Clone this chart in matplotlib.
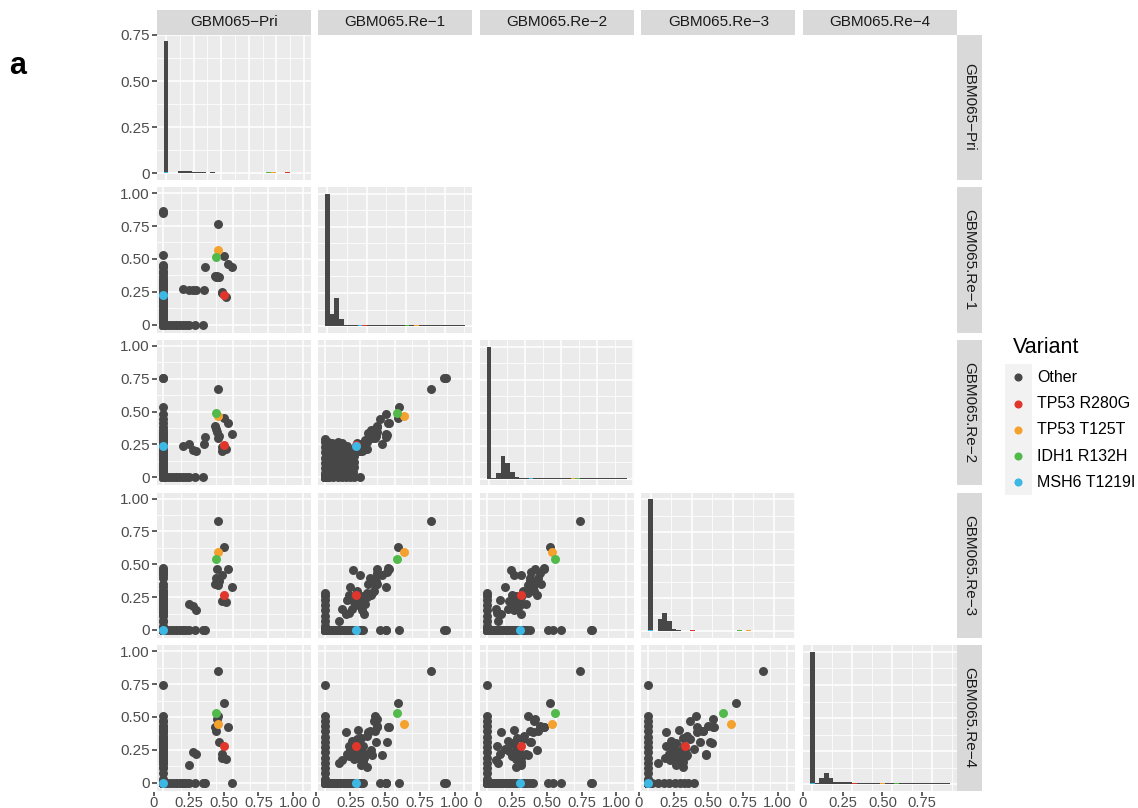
import numpy as np
import matplotlib
matplotlib.use("Agg")
import matplotlib.pyplot as plt
from matplotlib.ticker import FuncFormatter, MultipleLocator

plt.rcParams['font.family'] = ['Liberation Sans', 'DejaVu Sans']

# ---------------------------------------------------------------- data
samples = ["GBM065\u2212Pri", "GBM065.Re\u22121", "GBM065.Re\u22122",
           "GBM065.Re\u22123", "GBM065.Re\u22124"]

variant_names = ["Other", "TP53 R280G", "TP53 T125T", "IDH1 R132H", "MSH6 T1219I"]
variant_colors = ["#474747", "#E0362C", "#F4A12E", "#52BA4A", "#3DB7E4"]

# VAF of the highlighted variants: Pri, Re-1, Re-2, Re-3, Re-4
tp53_r280g = [0.437, 0.225, 0.244, 0.267, 0.278]
tp53_t125t = [0.390, 0.565, 0.467, 0.594, 0.445]
idh1_r132h = [0.375, 0.517, 0.490, 0.540, 0.528]
msh6_t1219i = [0.000, 0.223, 0.240, 0.000, 0.000]

# other mutations present in the primary tumour (Pri, Re-1 .. Re-4)
truncal = [
    (0.395, 0.764, 0.670, 0.826, 0.850),
    (0.437, 0.524, 0.455, 0.631, 0.603),
    (0.465, 0.460, 0.410, 0.467, 0.427),
    (0.490, 0.440, 0.330, 0.330, 0.000),
    (0.420, 0.250, 0.200, 0.415, 0.220),
    (0.420, 0.240, 0.230, 0.220, 0.190),
    (0.450, 0.210, 0.214, 0.210, 0.180),
    (0.400, 0.365, 0.315, 0.370, 0.306),
    (0.370, 0.370, 0.390, 0.348, 0.427),
    (0.380, 0.360, 0.370, 0.396, 0.394),
    (0.395, 0.360, 0.300, 0.340, 0.508),
    (0.384, 0.372, 0.346, 0.467, 0.483),
    (0.300, 0.440, 0.310, 0.000, 0.000),
    (0.290, 0.260, 0.257, 0.000, 0.000),
    (0.140, 0.270, 0.240, 0.000, 0.000),
    (0.180, 0.260, 0.250, 0.200, 0.134),
    (0.215, 0.260, 0.210, 0.180, 0.234),
    (0.235, 0.265, 0.200, 0.150, 0.217),
]

# absent in Pri, shared by the recurrences (Re-1, Re-2, Re-3, Re-4)
recurrence_shared = [
    (0.452, 0.410, 0.472, 0.427),
    (0.370, 0.382, 0.430, 0.432),
    (0.310, 0.334, 0.348, 0.382),
    (0.350, 0.340, 0.298, 0.467),
    (0.320, 0.315, 0.396, 0.394),
    (0.444, 0.320, 0.443, 0.306),
    (0.408, 0.250, 0.415, 0.210),
    (0.300, 0.214, 0.250, 0.120),
    (0.240, 0.200, 0.220, 0.400),
    (0.260, 0.220, 0.250, 0.340),
    (0.300, 0.270, 0.280, 0.355),
    (0.150, 0.100, 0.124, 0.382),
    (0.170, 0.075, 0.130, 0.280),
    (0.336, 0.300, 0.280, 0.210),
    (0.276, 0.250, 0.250, 0.154),
    (0.200, 0.178, 0.460, 0.300),
    (0.180, 0.130, 0.330, 0.260),
    (0.160, 0.094, 0.230, 0.220),
    (0.120, 0.070, 0.158, 0.170),
    (0.100, 0.082, 0.070, 0.150),
    (0.280, 0.250, 0.120, 0.190),
    (0.330, 0.359, 0.267, 0.250),
    (0.220, 0.200, 0.200, 0.300),
    (0.250, 0.230, 0.180, 0.260),
    (0.210, 0.160, 0.220, 0.240),
    (0.190, 0.150, 0.160, 0.320),
    (0.270, 0.210, 0.260, 0.280),
    (0.230, 0.260, 0.300, 0.330),
    (0.290, 0.280, 0.200, 0.220),
    (0.170, 0.180, 0.270, 0.200),
]

# found only in Re-1 and Re-2 (Re-1, Re-2)
re1_re2_only = [
    (0.02, 0.03), (0.02, 0.07), (0.02, 0.11), (0.02, 0.15), (0.02, 0.19), (0.02, 0.23), (0.02, 0.27),
    (0.05, 0.02), (0.05, 0.06), (0.05, 0.10), (0.05, 0.14), (0.05, 0.18), (0.05, 0.22), (0.05, 0.26),
    (0.08, 0.04), (0.08, 0.08), (0.08, 0.12), (0.08, 0.16), (0.08, 0.20), (0.08, 0.24), (0.09, 0.27),
    (0.11, 0.02), (0.11, 0.06), (0.11, 0.10), (0.11, 0.14), (0.11, 0.18), (0.12, 0.22), (0.12, 0.26),
    (0.14, 0.04), (0.14, 0.08), (0.14, 0.12), (0.15, 0.16), (0.15, 0.20), (0.16, 0.24),
    (0.17, 0.02), (0.17, 0.06), (0.18, 0.10), (0.18, 0.14), (0.19, 0.19),
    (0.20, 0.04), (0.21, 0.08), (0.21, 0.12),
    (0.528, 0.535), (0.440, 0.480), (0.396, 0.442),
    (0.852, 0.753), (0.866, 0.755),
]

# private mutations (VAF in their own sample only)
pri_only = [0.02, 0.04, 0.06, 0.08, 0.10, 0.12, 0.14, 0.16, 0.18, 0.23, 0.285]
re1_only = [0.03, 0.06, 0.09, 0.12, 0.15, 0.18, 0.21, 0.252]
re2_only = [0.03, 0.07, 0.11, 0.15, 0.19, 0.23, 0.27, 0.29]
re3_only = [0.03, 0.07, 0.11, 0.15, 0.19, 0.23, 0.26, 0.285]
re4_only = [0.03, 0.07, 0.11, 0.15, 0.19, 0.23, 0.27, 0.31, 0.35, 0.39,
            0.43, 0.47, 0.51, 0.743]

# histogram bin heights (30 bins per sample); Pri as proportions,
# the recurrences relative to their tallest bin
hist_pri = [0.716, 0.0015, 0.0015, 0.012, 0.012, 0.012, 0.005, 0.005, 0.005, 0.0015,
            0.005, 0.0015, 0.0015, 0.0015, 0.0015, 0.0015, 0.0015, 0.0015, 0.0015, 0.0015,
            0.0015, 0.0015, 0.007, 0.007, 0.0015, 0.0015, 0.007, 0.0015, 0.0015, 0.0015]
hist_re1 = [1.0, 0.089, 0.216, 0.051, 0.006, 0.006, 0.006, 0.006, 0.006, 0.006,
            0.006, 0.006, 0.006, 0.006, 0.006, 0.006, 0.006, 0.006, 0.006, 0.006,
            0.006, 0.006, 0.006, 0.006, 0.006, 0.006, 0.006, 0.006, 0.006, 0.006]
hist_re2 = [1.0, 0.006, 0.045, 0.176, 0.121, 0.055, 0.017, 0.009, 0.009, 0.009,
            0.009, 0.006, 0.006, 0.006, 0.006, 0.006, 0.006, 0.006, 0.006, 0.006,
            0.006, 0.006, 0.006, 0.006, 0.006, 0.006, 0.006, 0.006, 0.006, 0.006]
hist_re3 = [1.0, 0.006, 0.097, 0.137, 0.076, 0.018, 0.009, 0.006, 0.006, 0.006,
            0.006, 0.006, 0.006, 0.006, 0.006, 0.006, 0.006, 0.006, 0.006, 0.006,
            0.006, 0.006, 0.006, 0.006, 0.006, 0.006, 0.006, 0.006, 0.006, 0.006]
hist_re4 = [1.0, 0.006, 0.050, 0.083, 0.050, 0.017, 0.017, 0.017, 0.017, 0.009,
            0.009, 0.009, 0.009, 0.009, 0.006, 0.006, 0.006, 0.006, 0.006, 0.006,
            0.006, 0.006, 0.006, 0.006, 0.006, 0.006, 0.006, 0.006, 0.006, 0.006]
hist_heights = [hist_pri, hist_re1, hist_re2, hist_re3, hist_re4]

# ---------------------------------------------------------------- assemble table
rows = [tuple(r) for r in truncal]
rows += [(0.0,) + tuple(r) for r in recurrence_shared]
rows += [(0.0, a, b, 0.0, 0.0) for a, b in re1_re2_only]
rows += [(v, 0.0, 0.0, 0.0, 0.0) for v in pri_only]
rows += [(0.0, v, 0.0, 0.0, 0.0) for v in re1_only]
rows += [(0.0, 0.0, v, 0.0, 0.0) for v in re2_only]
rows += [(0.0, 0.0, 0.0, v, 0.0) for v in re3_only]
rows += [(0.0, 0.0, 0.0, 0.0, v) for v in re4_only]
other = np.array(rows)
highlights = np.array([tp53_r280g, tp53_t125t, idh1_r132h, msh6_t1219i])
all_vaf = np.vstack([other, highlights])

# ---------------------------------------------------------------- layout & style
W, H = 1138, 808
fig = plt.figure(figsize=(W / 100, H / 100), dpi=100)

COL_L = [156.5 + 161.6 * i for i in range(5)]
ROW_T = [34.5 + 152.7 * i for i in range(5)]
PW, PH = 154.2, 145.5
LABEL_SHIFT = 9.5

PANEL_BG = "#EBEBEB"
STRIP_BG = "#D9D9D9"
STRIP_TXT = "#1A1A1A"
TICK_COL = "#333333"
TICK_TXT = "#4D4D4D"
FS = 11

SC_XLIM = (-0.05, 1.058)
SC_YLIM = (-0.062, 1.046)
SC_MAJOR = [0, 0.25, 0.5, 0.75, 1.0]
HIST_STEP = [0.1, 0.25, 0.2, 0.25, 0.25]


def px_axes(l, t, w, h):
    return fig.add_axes([l / W, 1 - (t + h) / H, w / W, h / H])


def fmt(v, pos=None):
    return "0" if abs(v) < 1e-9 else f"{v:.2f}"


def base_style(ax):
    ax.set_facecolor(PANEL_BG)
    for s in ax.spines.values():
        s.set_visible(False)
    ax.set_axisbelow(True)
    ax.grid(True, which="major", color="white", lw=1.15)
    ax.grid(True, which="minor", color="white", lw=0.55)
    ax.tick_params(which="both", length=0, labelbottom=False, labelleft=False)


def left_ticks(ax):
    ax.tick_params(axis="y", which="major", left=True, labelleft=True, length=3.5,
                   width=1.1, color=TICK_COL, labelcolor=TICK_TXT, labelsize=FS, pad=1.5)
    ax.yaxis.set_major_formatter(FuncFormatter(fmt))


def bottom_ticks(j, xlim, ticks):
    lab = px_axes(COL_L[j] - LABEL_SHIFT, ROW_T[4] + PH, PW, 1)
    lab.set_xlim(xlim)
    lab.set_ylim(0, 1)
    lab.patch.set_visible(False)
    for s in lab.spines.values():
        s.set_visible(False)
    lab.set_yticks([])
    lab.set_xticks(ticks)
    lab.xaxis.set_major_formatter(FuncFormatter(fmt))
    lab.tick_params(axis="x", direction="out", length=3.0, width=1.1, color=TICK_COL,
                    labelcolor=TICK_TXT, labelsize=10.6, pad=0.0)


for i in range(5):
    for j in range(i + 1):
        ax = px_axes(COL_L[j], ROW_T[i], PW, PH)
        base_style(ax)
        if i == j:
            col = all_vaf[:, j]
            vmax = col.max()
            bw = vmax / 29.0
            centers = np.arange(30) * bw
            heights = np.array(hist_heights[j])
            top = heights.max()
            xlim = (-2.0 * bw, vmax + 2.0 * bw)
            ax.set_xlim(xlim)
            ax.set_ylim(-0.05 * top, 1.05 * top)
            ax.bar(centers, heights, width=bw, color=variant_colors[0], lw=0, zorder=2)
            # thin coloured slivers for the highlighted variants
            sliver = 0.008 * top
            for k in range(4):
                b = int(round(highlights[k, j] / bw))
                ax.bar(centers[b], sliver, width=bw, color=variant_colors[k + 1],
                       lw=0, zorder=3)
            step = HIST_STEP[j]
            ax.xaxis.set_major_locator(MultipleLocator(step))
            ax.xaxis.set_minor_locator(MultipleLocator(step / 2))
            if j == 0:
                ax.yaxis.set_major_locator(MultipleLocator(0.25))
                ax.yaxis.set_minor_locator(MultipleLocator(0.125))
                left_ticks(ax)
            else:
                ax.yaxis.set_major_locator(MultipleLocator(0.25 * top))
                ax.yaxis.set_minor_locator(MultipleLocator(0.125 * top))
            if i == 4:
                ticks = [t for t in np.arange(0, vmax + 1e-9, 0.25)]
                bottom_ticks(j, xlim, ticks)
        else:
            ax.set_xlim(SC_XLIM)
            ax.set_ylim(SC_YLIM)
            ax.set_xticks(SC_MAJOR)
            ax.set_xticks([0.125, 0.375, 0.625, 0.875], minor=True)
            ax.set_yticks(SC_MAJOR)
            ax.set_yticks([0.125, 0.375, 0.625, 0.875], minor=True)
            ax.scatter(other[:, j], other[:, i], s=42, c=variant_colors[0], lw=0, zorder=3)
            for k in range(4):
                ax.scatter(highlights[k, j], highlights[k, i], s=42,
                           c=variant_colors[k + 1], lw=0, zorder=4)
            if j == 0:
                left_ticks(ax)
            if i == 4:
                bottom_ticks(j, SC_XLIM, SC_MAJOR)

# facet strips
for j in range(5):
    s = px_axes(COL_L[j], 10.0, PW, 24.5)
    s.set_facecolor(STRIP_BG)
    s.set_xticks([]); s.set_yticks([])
    for sp in s.spines.values():
        sp.set_visible(False)
    s.text(0.5, 0.5, samples[j], ha="center", va="center", fontsize=FS,
           color=STRIP_TXT, transform=s.transAxes)
for i in range(5):
    s = px_axes(957.3, ROW_T[i], 24.5, PH)
    s.set_facecolor(STRIP_BG)
    s.set_xticks([]); s.set_yticks([])
    for sp in s.spines.values():
        sp.set_visible(False)
    s.text(0.5, 0.5, samples[i], ha="center", va="center", fontsize=FS,
           color=STRIP_TXT, rotation=-90, transform=s.transAxes)

# legend
fig.text(1013 / W, 1 - 348 / H, "Variant", fontsize=15.5, color="black",
         ha="left", va="center")
key = px_axes(1005, 364, 27, 131)
key.set_facecolor("#F2F2F2")
key.set_xlim(0, 1)
key.set_ylim(131, 0)
key.set_xticks([]); key.set_yticks([])
for sp in key.spines.values():
    sp.set_visible(False)
for k, (name, c) in enumerate(zip(variant_names, variant_colors)):
    yk = 13.5 + 26.2 * k
    key.scatter([0.48], [yk], s=34, c=c, lw=0)
    fig.text(1037 / W, 1 - (364 + yk) / H, name, fontsize=11.5, color="black",
             ha="left", va="center")

fig.text(9 / W, 1 - 66 / H, "a", fontsize=22, fontweight="bold", ha="left", va="center")

fig.savefig("out.png", dpi=100)
